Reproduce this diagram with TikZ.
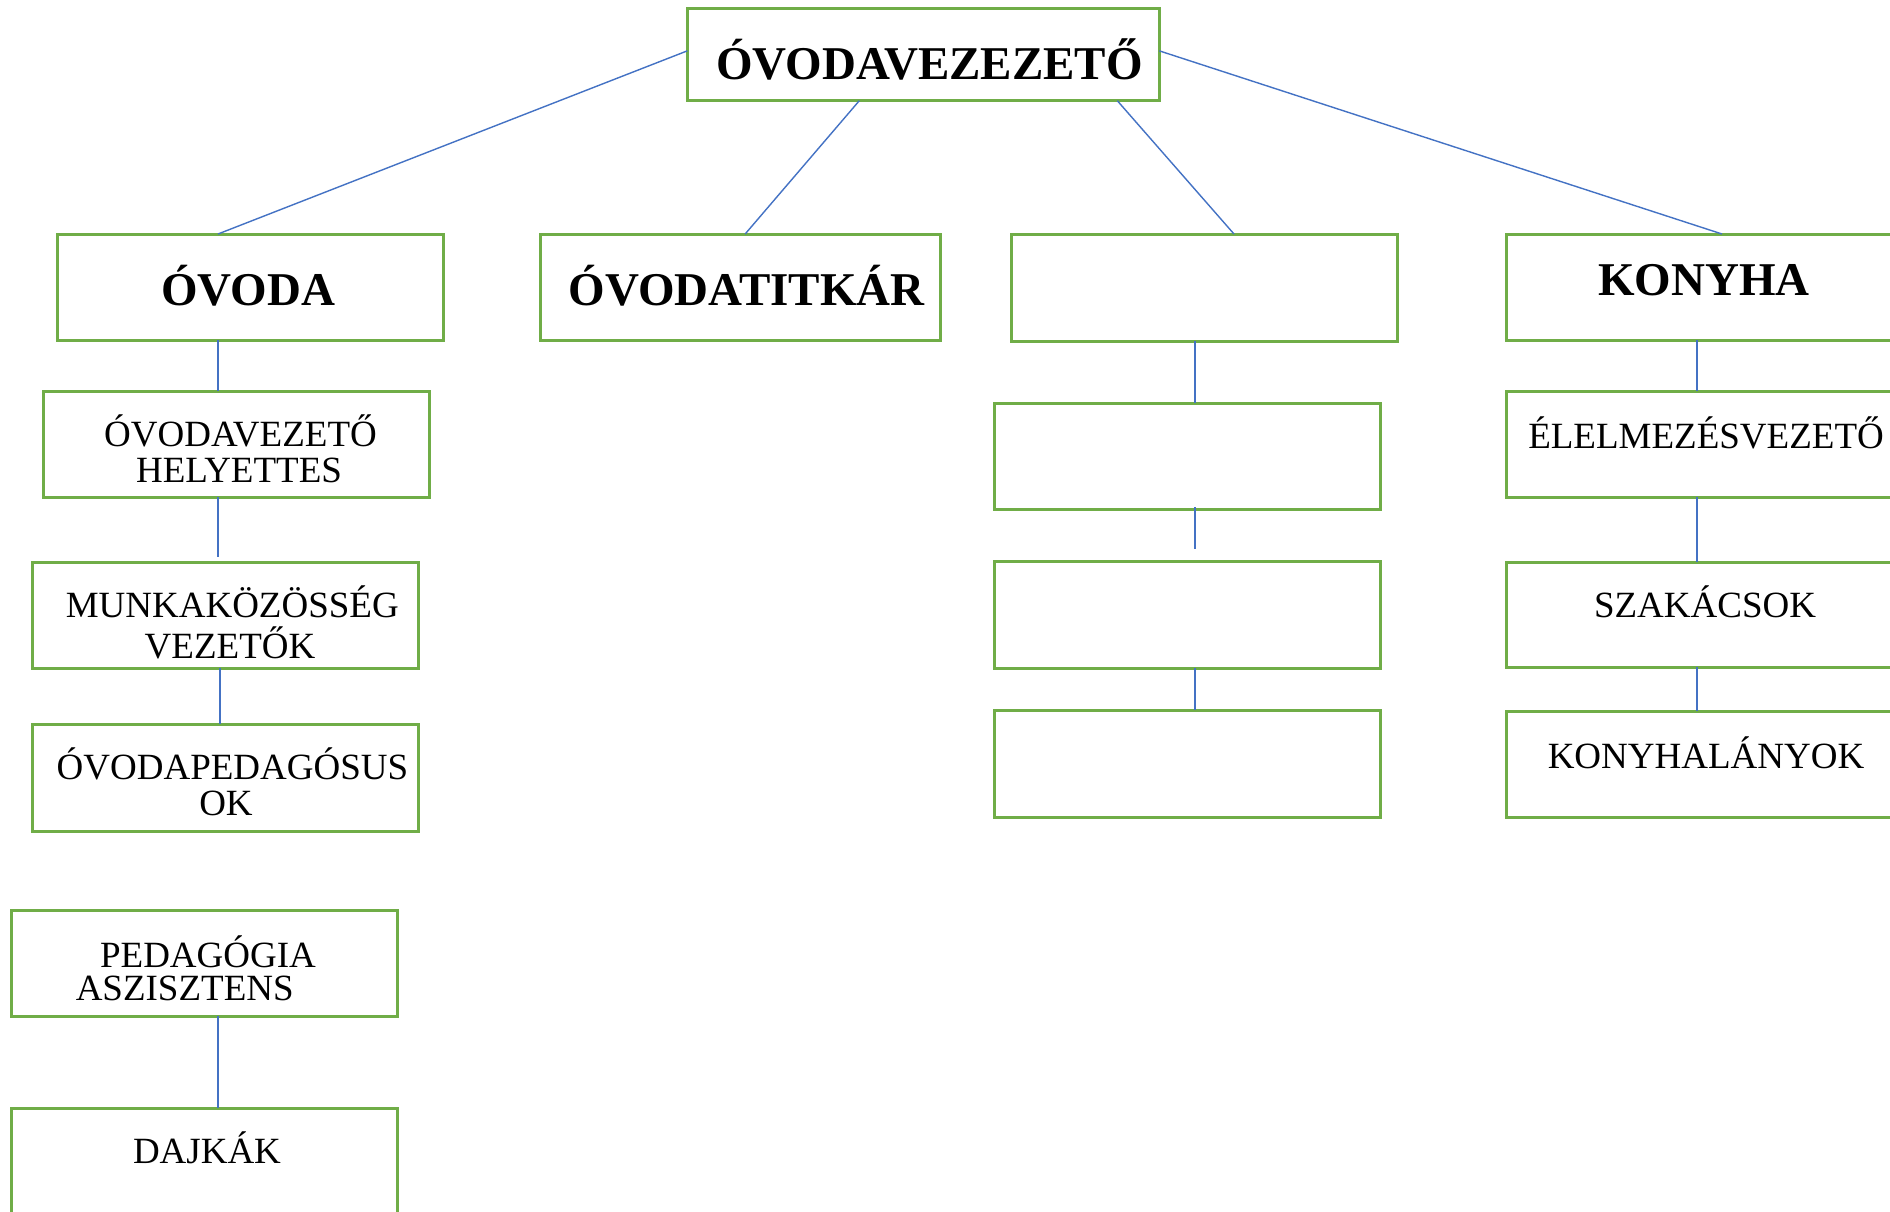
\documentclass[tikz,border=0pt]{standalone}
\usepackage{fontspec}
\setmainfont{Liberation Serif}
\usetikzlibrary{calc}
\definecolor{boxgreen}{HTML}{70AD47}
\definecolor{linkblue}{HTML}{4472C4}
\tikzset{
  orgbox/.style={draw=boxgreen, line width=1.5pt, rectangle, inner sep=0pt, outer sep=0pt, fill=none},
  link/.style={draw=linkblue, line width=0.7pt},
  boldlbl/.style={font=\bfseries\fontsize{23.5}{28}\selectfont, inner sep=0pt, anchor=base},
  plainlbl/.style={font=\fontsize{18.5}{22}\selectfont, inner sep=0pt, anchor=base, text depth=0pt},
}
\begin{document}
\begin{tikzpicture}[x=0.5pt, y=-0.5pt]
\useasboundingbox (0,0) rectangle (1890,1211);
\clip (0,0) rectangle (1890,1211);
\fill[white] (0,0) rectangle (1890,1211);

% column guides for vertical connectors
\coordinate (colA) at (218,0);
\coordinate (colA2) at (220,0);
\coordinate (colC) at (1195,0);
\coordinate (colD) at (1697,0);

% boxes
\node[orgbox, minimum width=236pt, minimum height=46.35pt] (top) at (923.3,54.35) {};
\node[orgbox, minimum width=193pt, minimum height=53pt] (ovoda) at (250,287) {};
\node[orgbox, minimum width=199.85pt, minimum height=53pt] (titkar) at (740.15,287) {};
\node[orgbox, minimum width=193pt, minimum height=53.5pt] (e1) at (1204,287.5) {};
\node[orgbox, minimum width=198pt, minimum height=53pt] (konyha) at (1704,287) {};

\node[orgbox, minimum width=193pt, minimum height=53pt] (hely) at (236,444) {};
\node[orgbox, minimum width=193pt, minimum height=53pt] (munka) at (225,615) {};
\node[orgbox, minimum width=193pt, minimum height=53.5pt] (ped) at (225,777.5) {};
\node[orgbox, minimum width=193pt, minimum height=53pt] (pedasz) at (204,963) {};
\node[orgbox, minimum width=193pt, minimum height=53pt] (dajka) at (204,1161) {};

\node[orgbox, minimum width=193pt, minimum height=53pt] (e2) at (1187.3,456) {};
\node[orgbox, minimum width=193pt, minimum height=53.5pt] (e3) at (1187.3,614.5) {};
\node[orgbox, minimum width=193pt, minimum height=53.5pt] (e4) at (1187.3,763.5) {};

\node[orgbox, minimum width=198pt, minimum height=53pt] (elel) at (1704,444) {};
\node[orgbox, minimum width=198pt, minimum height=52.5pt] (szak) at (1704,614.5) {};
\node[orgbox, minimum width=198pt, minimum height=53pt] (kl) at (1704,764) {};

% labels
\node[boldlbl] (topT) at (929.5,79) {ÓVODAVEZEZETŐ};
\node[boldlbl] (ovodaT) at (248.3,305) {ÓVODA};
\node[boldlbl] (titkarT) at (746.5,305) {ÓVODATITKÁR};
\node[boldlbl] (konyhaT) at (1704,295) {KONYHA};

\node[plainlbl] (helyT1) at (240.5,446.7) {ÓVODAVEZETŐ};
\node[plainlbl] (helyT2) at (239,482.3) {HELYETTES};
\node[plainlbl] (munkaT1) at (232.3,617.3) {MUNKAKÖZÖSSÉG};
\node[plainlbl] (munkaT2) at (230,658.3) {VEZETŐK};
\node[plainlbl] (pedT1) at (232.5,779.3) {ÓVODAPEDAGÓSUS};
\node[plainlbl] (pedT2) at (226,815) {OK};
\node[plainlbl] (pedaszT1) at (208,967.3) {PEDAGÓGIA};
\node[plainlbl] (pedaszT2) at (184.7,1000) {ASZISZTENS};
\node[plainlbl] (dajkaT) at (207,1163.3) {DAJKÁK};

\node[plainlbl] (elelT) at (1706,448.3) {ÉLELMEZÉSVEZETŐ};
\node[plainlbl] (szakT) at (1705,617.7) {SZAKÁCSOK};
\node[plainlbl] (klT) at (1706,768.3) {KONYHALÁNYOK};

% connectors from the top box
\draw[link] ($(top.west)+(0,-3.5)$) -- ($(ovoda.north)+(-32,0)$);
\draw[link] ($(top.south)+(-64,0)$) -- ($(titkar.north)+(5,0)$);
\draw[link] ($(top.south)+(194,0)$) -- ($(e1.north)+(30,0)$);
\draw[link] ($(top.east)+(0,-3.5)$) -- ($(konyha.north)+(18,0)$);

% left column
\draw[link] (ovoda.south -| colA) -- (hely.north -| colA);
\draw[link] (hely.south -| colA) -- ($(munka.north -| colA)+(0,-5)$);
\draw[link] (munka.south -| colA2) -- (ped.north -| colA2);
\draw[link] (pedasz.south -| colA) -- (dajka.north -| colA);

% empty column
\draw[link] (e1.south -| colC) -- (e2.north -| colC);
\draw[link] ($(e2.south -| colC)+(0,-2)$) -- ($(e3.north -| colC)+(0,-12)$);
\draw[link] (e3.south -| colC) -- (e4.north -| colC);

% kitchen column
\draw[link] (konyha.south -| colD) -- (elel.north -| colD);
\draw[link] (elel.south -| colD) -- (szak.north -| colD);
\draw[link] (szak.south -| colD) -- (kl.north -| colD);
\end{tikzpicture}
\end{document}
